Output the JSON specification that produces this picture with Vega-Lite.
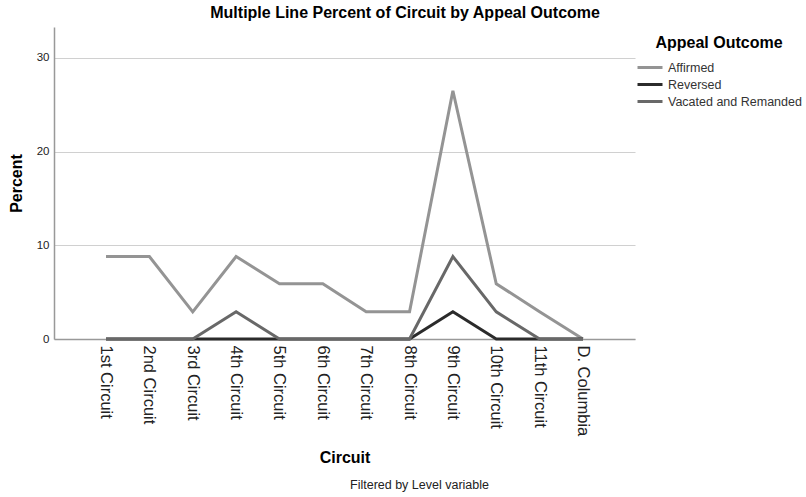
{
  "$schema": "https://vega.github.io/schema/vega-lite/v6.json",
  "background": "white",
  "padding": {"left": 8, "top": 5, "right": 0, "bottom": 0},
  "config": {
    "font": "Liberation Sans",
    "view": {"stroke": null},
    "concat": {"spacing": 0}
  },
  "title": {"text": "Multiple Line Percent of Circuit by Appeal Outcome", "fontSize": 16, "fontWeight": "bold", "color": "#000", "anchor": "middle", "offset": 6, "dx": 0},
  "vconcat": [
    {
      "width": 581,
      "height": 312,
      "title": {"text": "Filtered by Level variable", "orient": "bottom", "fontSize": 12.5, "fontWeight": "normal", "color": "#222", "anchor": "middle", "offset": 13, "dx": 75},
      "data": {"values": [
        {"circuit": "1st Circuit", "outcome": "Affirmed", "percent": 8.8},
        {"circuit": "2nd Circuit", "outcome": "Affirmed", "percent": 8.8},
        {"circuit": "3rd Circuit", "outcome": "Affirmed", "percent": 2.9},
        {"circuit": "4th Circuit", "outcome": "Affirmed", "percent": 8.8},
        {"circuit": "5th Circuit", "outcome": "Affirmed", "percent": 5.9},
        {"circuit": "6th Circuit", "outcome": "Affirmed", "percent": 5.9},
        {"circuit": "7th Circuit", "outcome": "Affirmed", "percent": 2.9},
        {"circuit": "8th Circuit", "outcome": "Affirmed", "percent": 2.9},
        {"circuit": "9th Circuit", "outcome": "Affirmed", "percent": 26.5},
        {"circuit": "10th Circuit", "outcome": "Affirmed", "percent": 5.9},
        {"circuit": "11th Circuit", "outcome": "Affirmed", "percent": 2.9},
        {"circuit": "D. Columbia", "outcome": "Affirmed", "percent": 0},
        {"circuit": "1st Circuit", "outcome": "Reversed", "percent": 0},
        {"circuit": "2nd Circuit", "outcome": "Reversed", "percent": 0},
        {"circuit": "3rd Circuit", "outcome": "Reversed", "percent": 0},
        {"circuit": "4th Circuit", "outcome": "Reversed", "percent": 0},
        {"circuit": "5th Circuit", "outcome": "Reversed", "percent": 0},
        {"circuit": "6th Circuit", "outcome": "Reversed", "percent": 0},
        {"circuit": "7th Circuit", "outcome": "Reversed", "percent": 0},
        {"circuit": "8th Circuit", "outcome": "Reversed", "percent": 0},
        {"circuit": "9th Circuit", "outcome": "Reversed", "percent": 2.9},
        {"circuit": "10th Circuit", "outcome": "Reversed", "percent": 0},
        {"circuit": "11th Circuit", "outcome": "Reversed", "percent": 0},
        {"circuit": "D. Columbia", "outcome": "Reversed", "percent": 0},
        {"circuit": "1st Circuit", "outcome": "Vacated and Remanded", "percent": 0},
        {"circuit": "2nd Circuit", "outcome": "Vacated and Remanded", "percent": 0},
        {"circuit": "3rd Circuit", "outcome": "Vacated and Remanded", "percent": 0},
        {"circuit": "4th Circuit", "outcome": "Vacated and Remanded", "percent": 2.9},
        {"circuit": "5th Circuit", "outcome": "Vacated and Remanded", "percent": 0},
        {"circuit": "6th Circuit", "outcome": "Vacated and Remanded", "percent": 0},
        {"circuit": "7th Circuit", "outcome": "Vacated and Remanded", "percent": 0},
        {"circuit": "8th Circuit", "outcome": "Vacated and Remanded", "percent": 0},
        {"circuit": "9th Circuit", "outcome": "Vacated and Remanded", "percent": 8.8},
        {"circuit": "10th Circuit", "outcome": "Vacated and Remanded", "percent": 2.9},
        {"circuit": "11th Circuit", "outcome": "Vacated and Remanded", "percent": 0},
        {"circuit": "D. Columbia", "outcome": "Vacated and Remanded", "percent": 0}
      ]},
      "mark": {"type": "line", "strokeWidth": 3},
      "encoding": {
        "x": {
          "field": "circuit", "type": "ordinal", "bandPosition": 0.5,
          "sort": ["1st Circuit","2nd Circuit","3rd Circuit","4th Circuit","5th Circuit","6th Circuit","7th Circuit","8th Circuit","9th Circuit","10th Circuit","11th Circuit","D. Columbia"],
          "scale": {"type": "band", "paddingInner": 0, "paddingOuter": 0.7},
          "axis": {"title": "Circuit", "titleFontSize": 16, "titleFontWeight": "bold", "titleColor": "#000", "titlePadding": 14,
                   "labelAngle": 90, "labelAlign": "left", "labelBaseline": "middle", "labelFontSize": 16.5, "labelColor": "#222", "labelPadding": 6,
                   "ticks": false, "domainColor": "#999", "domainWidth": 1.5, "grid": false}
        },
        "y": {
          "field": "percent", "type": "quantitative",
          "scale": {"domain": [0, 33.3], "nice": false},
          "axis": {"title": "Percent", "titleFontSize": 16, "titleFontWeight": "bold", "titleColor": "#000", "titlePadding": 12,
                   "values": [0, 10, 20, 30], "labelFontSize": 11.5, "labelColor": "#222", "labelPadding": 5,
                   "ticks": false, "domainColor": "#999", "domainWidth": 1.5, "grid": true, "gridColor": "#d0d0d0", "gridWidth": 1.2}
        },
        "color": {
          "field": "outcome", "type": "nominal",
          "scale": {"domain": ["Affirmed", "Reversed", "Vacated and Remanded"], "range": ["#949494", "#2b2b2b", "#686868"]},
          "legend": {"orient": "none", "legendX": 582, "legendY": 8,
                     "title": "Appeal Outcome", "titleFontSize": 16, "titleFontWeight": "bold", "titleColor": "#000", "titleAnchor": "middle", "titlePadding": 10,
                     "labelFontSize": 12.5, "labelColor": "#333", "symbolType": "stroke", "symbolStrokeWidth": 3, "symbolSize": 625, "labelOffset": 4,
                     "clipHeight": 13, "rowPadding": 4, "padding": 0}
        }
      }
    }
  ]
}
